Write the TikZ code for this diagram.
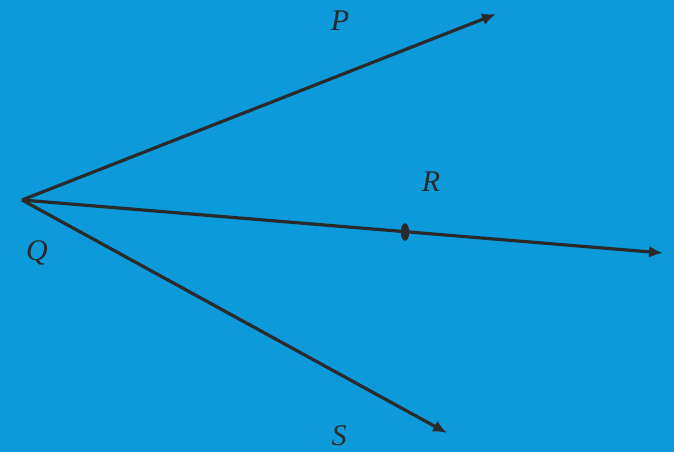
\documentclass[tikz,border=0pt]{standalone}
\usepackage{fontspec}
\usetikzlibrary{arrows.meta}
\setmainfont{Liberation Serif}
\definecolor{bg}{HTML}{0C9ADB}
\definecolor{ink}{HTML}{2A2A2A}
\begin{document}
\begin{tikzpicture}[x=1pt,y=-1pt,
  ray/.style={draw=ink,line width=3.2pt,-{Latex[length=14pt,width=12pt]}},
  lbl/.style={text=ink,font=\fontsize{30}{31}\selectfont\itshape,inner sep=0pt}]
\fill[bg] (0,0) rectangle (674,452);
\useasboundingbox (0,0) rectangle (674,452);
\coordinate (Q) at (22,200);
\coordinate (Pend) at (496,14);
\coordinate (Rend) at (663,253);
\coordinate (Send) at (447,433);
\draw[ray] (Q) -- (Pend);
\draw[ray] (Q) -- (Rend);
\draw[ray] (Q) -- (Send);
\fill[ink] (405,232) ellipse (4.2pt and 8.8pt);
\node[lbl] (lP) at (340,21) {P};
\node[lbl] (lQ) at (37,253) {Q};
\node[lbl] (lR) at (431,182) {R};
\node[lbl] (lS) at (339,436) {S};
\end{tikzpicture}
\end{document}
